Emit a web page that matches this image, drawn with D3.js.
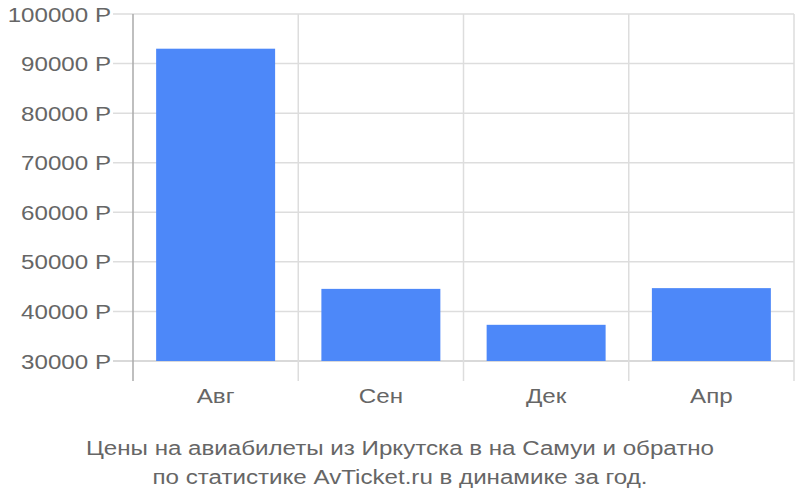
<!DOCTYPE html>
<html>
<head>
<meta charset="utf-8">
<script src="https://cdn.jsdelivr.net/npm/d3@7"></script>
<style>
  body { margin: 0; background: #fff; }
  svg text { font-family: "Liberation Sans", Arial, sans-serif; fill: #666; font-size: 21px; }
</style>
</head>
<body>
<svg id="chart" width="800" height="500"></svg>
<script>
// Data
const MONTHS = ["Авг", "Сен", "Дек", "Апр"];
const PRICES = [93000, 44550, 37300, 44700];
const Y_TICKS = [30000, 40000, 50000, 60000, 70000, 80000, 90000, 100000];
const TITLE_LINES = [
    "Цены на авиабилеты из Иркутска в на Самуи и обратно",
    "по статистике AvTicket.ru в динамике за год."
];

const MARGINS = { top: 14, right: 6, bottom: 139, left: 133 };
const WIDTH = 800, HEIGHT = 500;
const PLOT_W = WIDTH - MARGINS.left - MARGINS.right;
const PLOT_H = HEIGHT - MARGINS.top - MARGINS.bottom;
const STRETCH = 1.15; // the reference text is a bit wide for its height

const svg = d3.select("#chart");

const x = d3.scaleBand().domain(MONTHS).range([MARGINS.left, MARGINS.left + PLOT_W]).paddingInner(0.28).paddingOuter(0.14);
const xEdges = d3.scaleLinear().domain([0, MONTHS.length]).range([MARGINS.left, MARGINS.left + PLOT_W]);
const y = d3.scaleLinear().domain([30000, 100000]).range([MARGINS.top + PLOT_H, MARGINS.top]);

const place = (px, py) => `translate(${px},${py}) scale(${STRETCH},1)`;

// horizontal grid + tick labels
svg.append("g")
    .selectAll("line")
    .data(Y_TICKS)
    .join("line")
    .attr("x1", MARGINS.left - 20)
    .attr("x2", MARGINS.left + PLOT_W)
    .attr("y1", d => y(d))
    .attr("y2", d => y(d))
    .attr("stroke", d => d === 30000 ? "#ccc" : "#ddd")
    .attr("stroke-width", 1.5);

svg.append("g")
    .selectAll("text")
    .data(Y_TICKS)
    .join("text")
    .attr("transform", d => place(MARGINS.left - 22, y(d)))
    .attr("dy", "0.36em")
    .attr("text-anchor", "end")
    .text(d => d + " Р");

// vertical grid at category edges
svg.append("g")
    .selectAll("line")
    .data(d3.range(MONTHS.length + 1))
    .join("line")
    .attr("x1", d => xEdges(d))
    .attr("x2", d => xEdges(d))
    .attr("y1", MARGINS.top)
    .attr("y2", MARGINS.top + PLOT_H + 20)
    .attr("stroke", d => d === 0 ? "#aaa" : "#ddd")
    .attr("stroke-width", 1.5);

// bars
svg.append("g")
    .selectAll("rect")
    .data(MONTHS)
    .join("rect")
    .attr("x", d => x(d))
    .attr("width", x.bandwidth())
    .attr("y", (d, i) => y(PRICES[i]))
    .attr("height", (d, i) => y(30000) - y(PRICES[i]))
    .attr("fill", "#4d88f9");

// category labels
svg.append("g")
    .selectAll("text")
    .data(MONTHS)
    .join("text")
    .attr("transform", d => place(x(d) + x.bandwidth() / 2, 403))
    .attr("text-anchor", "middle")
    .text(d => d);

// title
svg.append("g")
    .selectAll("text")
    .data(TITLE_LINES)
    .join("text")
    .attr("transform", (d, i) => place(400, 455 + i * 28.5))
    .attr("text-anchor", "middle")
    .text(d => d);
</script>
</body>
</html>
